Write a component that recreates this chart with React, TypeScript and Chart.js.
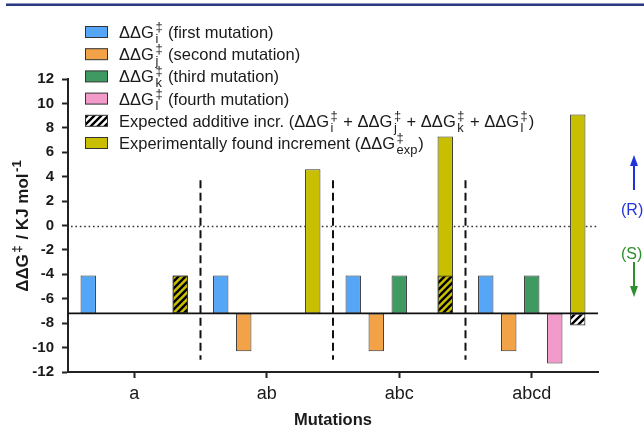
import React, { useEffect, useRef } from 'react';
import { Chart, registerables } from 'chart.js';

Chart.register(...registerables);

// ---------- data ----------
const categories = ['a', 'ab', 'abc', 'abcd'];
const baseline = -7.2;
const firstMutation = [-4.1, -4.1, -4.1, -4.1];
const secondMutation = [null, -10.3, -10.3, -10.3];
const thirdMutation = [null, null, -4.1, -4.1];
const fourthMutation = [null, null, null, -11.3];
const expectedAdditive = [-4.1, null, -4.1, -8.2];
const experimentalIncrement = [-4.1, 4.6, 7.3, 9.1];
const yMin = -12;
const yMax = 12;
const yStep = 2;
const dividerTop = 3.7;
const dividerBottom = -11.0;

const FAMILY = '"Liberation Sans", Arial, Helvetica, sans-serif';

const COLORS = {
  first: '#55a6f7',
  second: '#f2a347',
  third: '#3f9a62',
  fourth: '#f29bcb',
  exp: '#c8bf00',
  border: '#333333',
  axis: '#222222',
};

type Run = { t: string; sup?: string; sub?: string };

const legendRows: { fill: string; runs: Run[] }[] = [
  { fill: 'first', runs: [{ t: '\u0394\u0394G', sup: '\u2021', sub: 'i' }, { t: ' (first mutation)' }] },
  { fill: 'second', runs: [{ t: '\u0394\u0394G', sup: '\u2021', sub: 'j' }, { t: ' (second mutation)' }] },
  { fill: 'third', runs: [{ t: '\u0394\u0394G', sup: '\u2021', sub: 'k' }, { t: ' (third mutation)' }] },
  { fill: 'fourth', runs: [{ t: '\u0394\u0394G', sup: '\u2021', sub: 'l' }, { t: ' (fourth mutation)' }] },
  {
    fill: 'hatch',
    runs: [
      { t: 'Expected additive incr. (\u0394\u0394G', sup: '\u2021', sub: 'i' },
      { t: ' + \u0394\u0394G', sup: '\u2021', sub: 'j' },
      { t: ' + \u0394\u0394G', sup: '\u2021', sub: 'k' },
      { t: ' + \u0394\u0394G', sup: '\u2021', sub: 'l' },
      { t: ')' },
    ],
  },
  { fill: 'exp', runs: [{ t: 'Experimentally found increment (\u0394\u0394G', sup: '\u2021', sub: 'exp' }, { t: ')' }] },
];

const toFloat = (arr: (number | null)[]) => arr.map((v) => (v == null ? null : [baseline, v]));

function makeHatch(ctx: CanvasRenderingContext2D, bg: string | null) {
  const s = 7;
  const c = document.createElement('canvas');
  c.width = s;
  c.height = s;
  const g = c.getContext('2d')!;
  if (bg) {
    g.fillStyle = bg;
    g.fillRect(0, 0, s, s);
  }
  g.strokeStyle = '#000';
  g.lineWidth = 2.4;
  g.beginPath();
  g.moveTo(-2, s + 2);
  g.lineTo(s + 2, -2);
  g.moveTo(-2, 2);
  g.lineTo(2, -2);
  g.moveTo(s - 2, s + 2);
  g.lineTo(s + 2, s - 2);
  g.stroke();
  return ctx.createPattern(c, 'repeat')!;
}

const SMALL = 0.78;
const GAP_BEFORE = 1.5;
const GAP_AFTER = 1;

function measureRich(ctx: CanvasRenderingContext2D, runs: Run[], size: number, weight: string) {
  const main = `${weight} ${size}px ${FAMILY}`;
  const small = `${weight} ${size * SMALL}px ${FAMILY}`;
  let w = 0;
  for (const r of runs) {
    ctx.font = main;
    w += ctx.measureText(r.t).width;
    if (r.sup || r.sub) {
      ctx.font = small;
      const a = r.sup ? ctx.measureText(r.sup).width : 0;
      const b = r.sub ? ctx.measureText(r.sub).width : 0;
      w += Math.max(a, b) + GAP_BEFORE + GAP_AFTER;
    }
  }
  return w;
}

function drawRich(
  ctx: CanvasRenderingContext2D,
  x: number,
  y: number,
  runs: Run[],
  size: number,
  weight: string,
  color: string,
) {
  const main = `${weight} ${size}px ${FAMILY}`;
  const small = `${weight} ${size * SMALL}px ${FAMILY}`;
  ctx.fillStyle = color;
  ctx.textBaseline = 'alphabetic';
  ctx.textAlign = 'left';
  let cx = x;
  for (const r of runs) {
    ctx.font = main;
    ctx.fillText(r.t, cx, y);
    cx += ctx.measureText(r.t).width;
    if (r.sup || r.sub) {
      ctx.font = small;
      let adv = 0;
      if (r.sup) {
        ctx.fillText(r.sup, cx + GAP_BEFORE, y - size * 0.42);
        adv = Math.max(adv, ctx.measureText(r.sup).width);
      }
      if (r.sub) {
        ctx.fillText(r.sub, cx + GAP_BEFORE, y + size * 0.3);
        adv = Math.max(adv, ctx.measureText(r.sub).width);
      }
      cx += adv + GAP_BEFORE + GAP_AFTER;
    }
  }
}

function arrow(ctx: CanvasRenderingContext2D, x: number, y0: number, y1: number, color: string) {
  const dir = y1 < y0 ? -1 : 1;
  ctx.strokeStyle = color;
  ctx.fillStyle = color;
  ctx.lineWidth = 2;
  ctx.beginPath();
  ctx.moveTo(x, y0);
  ctx.lineTo(x, y1 - dir * 8);
  ctx.stroke();
  ctx.beginPath();
  ctx.moveTo(x, y1);
  ctx.lineTo(x - 4, y1 - dir * 11);
  ctx.lineTo(x + 4, y1 - dir * 11);
  ctx.closePath();
  ctx.fill();
}

export default function App() {
  const ref = useRef<HTMLCanvasElement | null>(null);

  useEffect(() => {
    const canvas = ref.current!;
    const ctx0 = canvas.getContext('2d')!;
    const hatchBar = makeHatch(ctx0, null);
    const hatchLegend = makeHatch(ctx0, '#ffffff');

    const decor = {
      id: 'decor',
      beforeDatasetsDraw(chart: any) {
        const { ctx, chartArea, scales } = chart;
        const y = scales.y;
        const x = scales.x;
        ctx.save();
        // dotted zero line
        ctx.strokeStyle = '#333';
        ctx.lineWidth = 1.6;
        ctx.setLineDash([1.6, 2.8]);
        ctx.beginPath();
        const y0 = Math.round(y.getPixelForValue(0)) + 0.5;
        ctx.moveTo(chartArea.left + 3, y0);
        ctx.lineTo(chartArea.right, y0);
        ctx.stroke();
        // dashed dividers
        ctx.setLineDash([8, 4.5]);
        ctx.lineWidth = 2;
        ctx.strokeStyle = '#111';
        for (let i = 0; i < categories.length - 1; i++) {
          const px = (x.getPixelForValue(i) + x.getPixelForValue(i + 1)) / 2;
          ctx.beginPath();
          ctx.moveTo(px, y.getPixelForValue(dividerTop));
          ctx.lineTo(px, y.getPixelForValue(dividerBottom));
          ctx.stroke();
        }
        ctx.restore();
      },
      afterDatasetsDraw(chart: any) {
        const { ctx, chartArea, scales } = chart;
        const y = scales.y;
        ctx.save();
        ctx.strokeStyle = '#111';
        ctx.lineWidth = 1.6;
        const by = y.getPixelForValue(baseline);
        ctx.beginPath();
        ctx.moveTo(chartArea.left, by);
        ctx.lineTo(chartArea.right, by);
        ctx.stroke();
        ctx.restore();
      },
      afterDraw(chart: any) {
        const { ctx, chartArea } = chart;
        ctx.save();
        // top frame line
        ctx.fillStyle = '#8a94bd';
        ctx.fillRect(6, 3, 638, 1);
        ctx.fillStyle = '#2b3a7f';
        ctx.fillRect(6, 4, 638, 2);

        // legend
        const rowY0 = 32;
        const rowGap = 22.2;
        legendRows.forEach((row, i) => {
          const cy = rowY0 + i * rowGap;
          let fill: any;
          if (row.fill === 'hatch') fill = hatchLegend;
          else fill = (COLORS as any)[row.fill];
          ctx.fillStyle = fill;
          ctx.fillRect(85, cy - 5.5, 23, 11);
          ctx.strokeStyle = COLORS.border;
          ctx.lineWidth = 1;
          ctx.strokeRect(85.5, cy - 5.5, 22, 11);
          drawRich(ctx, 119, cy + 6, row.runs, 16.5, 'normal', '#1a1a1a');
        });

        // y title
        const titleRuns: Run[] = [{ t: '\u0394\u0394G', sup: '\u2021' }, { t: ' / KJ mol', sup: '-1' }];
        const tw = measureRich(ctx, titleRuns, 17, 'bold');
        ctx.save();
        ctx.translate(28, (chartArea.top + chartArea.bottom) / 2);
        ctx.rotate(-Math.PI / 2);
        drawRich(ctx, -tw / 2, 0, titleRuns, 17, 'bold', '#1a1a1a');
        ctx.restore();

        // x title
        ctx.font = `bold 16.5px ${FAMILY}`;
        ctx.fillStyle = '#1a1a1a';
        ctx.textAlign = 'center';
        ctx.textBaseline = 'alphabetic';
        ctx.fillText('Mutations', (chartArea.left + chartArea.right) / 2, 425);

        // (R)/(S) annotation
        ctx.font = `16px ${FAMILY}`;
        ctx.textAlign = 'left';
        ctx.fillStyle = '#2233dd';
        ctx.fillText('(R)', 621, 215);
        ctx.fillStyle = '#2f8f2f';
        ctx.fillText('(S)', 621, 259);
        arrow(ctx, 634, 190, 155, '#2233dd');
        arrow(ctx, 634, 262, 297, '#2f8f2f');
        ctx.restore();
      },
    };

    const chart = new Chart(canvas, {
      type: 'bar',
      data: {
        labels: categories,
        datasets: [
          { label: 'first', data: toFloat(firstMutation) as any, backgroundColor: COLORS.first, stack: 's1' },
          { label: 'second', data: toFloat(secondMutation) as any, backgroundColor: COLORS.second, stack: 's2' },
          { label: 'third', data: toFloat(thirdMutation) as any, backgroundColor: COLORS.third, stack: 's3' },
          { label: 'fourth', data: toFloat(fourthMutation) as any, backgroundColor: COLORS.fourth, stack: 's4' },
          { label: 'expected', data: toFloat(expectedAdditive) as any, backgroundColor: hatchBar as any, stack: 's5' },
          { label: 'experimental', data: toFloat(experimentalIncrement) as any, backgroundColor: COLORS.exp, stack: 's5' },
        ],
      },
      options: {
        responsive: false,
        animation: false,
        layout: { padding: { top: 79, right: 46, left: 0, bottom: 0 } },
        plugins: { legend: { display: false }, tooltip: { enabled: false } },
        datasets: {
          bar: {
            barPercentage: 0.67,
            categoryPercentage: 0.868,
            borderColor: COLORS.border,
            borderWidth: 1,
            borderSkipped: false,
          },
        },
        scales: {
          x: {
            stacked: true,
            offset: true,
            grid: {
              offset: false,
              drawOnChartArea: false,
              drawTicks: true,
              tickLength: 6,
              tickColor: COLORS.axis,
              tickWidth: 2,
            } as any,
            border: { display: true, color: COLORS.axis, width: 2 },
            ticks: { font: { family: FAMILY, size: 18 }, color: '#1a1a1a', padding: 5, maxRotation: 0 },
            afterFit: (s: any) => {
              s.height = 55;
            },
          },
          y: {
            stacked: false,
            min: yMin,
            max: yMax,
            ticks: { stepSize: yStep, font: { family: FAMILY, size: 15, weight: 'bold' }, color: '#1a1a1a', padding: 8 },
            grid: {
              drawOnChartArea: false,
              drawTicks: true,
              tickLength: 6,
              tickColor: COLORS.axis,
              tickWidth: 2,
            } as any,
            border: { display: true, color: COLORS.axis, width: 2 },
            afterFit: (s: any) => {
              s.width = 68;
            },
          },
        },
      },
      plugins: [decor],
    });
    return () => chart.destroy();
  }, []);

  return (
    <div style={{ position: 'fixed', left: 0, top: 0, width: 644, height: 427, background: '#fff' }}>
      <canvas ref={ref} width={644} height={427} style={{ display: 'block' }} />
    </div>
  );
}
